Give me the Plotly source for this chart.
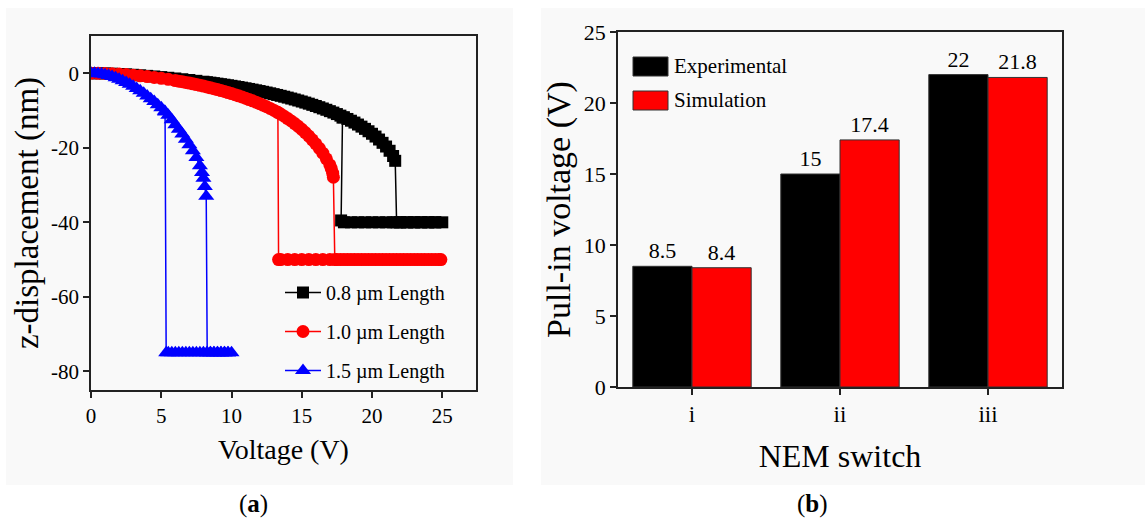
import plotly.graph_objects as go

W, H = 1145, 520
FONT = "Liberation Serif, serif"

# ---------------- Panel (a) data: z-displacement vs voltage ----------------
# 0.8 um : forward sweep along curve, pull-in jump, contact branch, release jump
v08 = [0.0, 0.5, 1.0, 1.5, 2.0, 2.5, 3.0, 3.5, 4.0, 4.5, 5.0, 5.5, 6.0, 6.5, 7.0, 7.5,
       8.0, 8.25, 8.5, 8.75, 9.0, 9.25, 9.5, 9.75, 10.0, 10.25, 10.5, 10.75, 11.0, 11.25,
       11.5, 11.75, 12.0, 12.25, 12.5, 12.75, 13.0, 13.25, 13.5, 13.75, 14.0, 14.25, 14.5,
       14.75, 15.0, 15.25, 15.5, 15.75, 16.0, 16.25, 16.5, 16.75, 17.0, 17.25, 17.5, 17.75,
       18.0, 18.25, 18.5, 18.75, 19.0, 19.25, 19.5, 19.75, 20.0, 20.25, 20.5, 20.75, 21.0,
       21.25, 21.5, 21.65,
       21.75, 22.0, 22.5, 23.0, 23.5, 24.0, 24.5, 25.0,
       24.5, 24.0, 23.5, 23.0, 22.5, 22.0, 21.5, 21.0, 20.5, 20.0, 19.5, 19.0, 18.5, 18.0, 17.8,
       17.9]
z08 = [0.0, -0.01, -0.05, -0.11, -0.19, -0.29, -0.41, -0.55, -0.70, -0.86, -1.03, -1.21,
       -1.40, -1.60, -1.81, -2.03,
       -2.27, -2.39, -2.52, -2.65, -2.79, -2.93, -3.07, -3.22, -3.37, -3.53, -3.69, -3.86,
       -4.03, -4.21, -4.39, -4.58, -4.77, -4.97, -5.17, -5.38, -5.60, -5.82, -6.05, -6.29,
       -6.53, -6.78, -7.04, -7.31, -7.58, -7.87, -8.16, -8.47, -8.78, -9.11, -9.45, -9.80,
       -10.17, -10.55, -10.95, -11.37, -11.80, -12.26, -12.73, -13.23, -13.76, -14.32,
       -14.92, -15.56, -16.24, -16.98, -17.78, -18.67, -19.66, -20.8, -22.2, -23.5,
       -40.0, -40.0, -40.0, -40.0, -40.0, -40.0, -40.0, -40.0,
       -40.0, -40.0, -40.0, -40.0, -40.0, -40.0, -40.0, -40.0, -40.0, -40.0, -40.0, -40.0,
       -40.0, -40.0, -39.5,
       -11.9]

# 1.0 um
v10 = [0.0, 0.5, 1.0, 1.5, 2.0, 2.5, 3.0, 3.5, 4.0, 4.5, 5.0, 5.5,
       6.0, 6.25, 6.5, 6.75, 7.0, 7.25, 7.5, 7.75, 8.0, 8.25, 8.5, 8.75, 9.0, 9.25, 9.5,
       9.75, 10.0, 10.25, 10.5, 10.75, 11.0, 11.25, 11.5, 11.75, 12.0, 12.25, 12.5, 12.75,
       13.0, 13.25, 13.5, 13.75, 14.0, 14.25, 14.5, 14.75, 15.0, 15.25, 15.5, 15.75, 16.0,
       16.25, 16.5, 16.75, 17.0, 17.1, 17.2, 17.25,
       17.35, 17.75, 18.25, 18.75, 19.25, 19.75, 20.25, 20.75, 21.25, 21.75, 22.25, 22.75,
       23.25, 23.75, 24.25, 24.75, 24.9,
       24.5, 24.0, 23.5, 23.0, 22.5, 22.0, 21.5, 21.0, 20.5, 20.0, 19.5, 19.0, 18.5, 18.0,
       17.5, 17.0, 16.5, 16.0, 15.5, 15.0, 14.5, 14.0, 13.5, 13.35,
       13.3]
z10 = [0.0, -0.02, -0.06, -0.13, -0.22, -0.35, -0.50, -0.68, -0.88, -1.11, -1.36, -1.64,
       -1.95, -2.11, -2.28, -2.46, -2.64, -2.83, -3.03, -3.24, -3.45, -3.67, -3.90, -4.14,
       -4.38, -4.64, -4.90, -5.17, -5.45, -5.75, -6.05, -6.37, -6.70, -7.05, -7.40, -7.77,
       -8.15, -8.56, -8.98, -9.43, -9.90, -10.41, -10.95, -11.53, -12.15, -12.81, -13.50,
       -14.25, -15.05, -15.92, -16.85, -17.86, -18.95, -20.15, -21.45, -22.95, -24.60,
       -25.6, -26.8, -27.9,
       -50.0, -50.0, -50.0, -50.0, -50.0, -50.0, -50.0, -50.0, -50.0, -50.0, -50.0, -50.0,
       -50.0, -50.0, -50.0, -50.0, -50.0,
       -50.0, -50.0, -50.0, -50.0, -50.0, -50.0, -50.0, -50.0, -50.0, -50.0, -50.0, -50.0,
       -50.0, -50.0, -50.0, -50.0, -50.0, -50.0, -50.0, -50.0, -50.0, -50.0, -50.0, -50.0,
       -10.5]

# 1.5 um
v15 = [0.0, 0.25, 0.5, 0.75, 1.0, 1.25, 1.5, 1.75, 2.0, 2.25, 2.5, 2.75, 3.0, 3.25, 3.5,
       3.75, 4.0, 4.25, 4.5, 4.75, 5.0, 5.25, 5.5, 5.75, 6.0, 6.25, 6.5, 6.75, 7.0, 7.25,
       7.5, 7.75, 7.9, 8.0, 8.1, 8.2,
       8.27, 8.5, 8.75, 9.0, 9.25, 9.5, 9.75, 10.0,
       9.75, 9.5, 9.25, 9.0, 8.75, 8.5, 8.25, 8.0, 7.75, 7.5, 7.25, 7.0, 6.75, 6.5, 6.25,
       6.0, 5.75, 5.5, 5.35,
       5.27]
z15 = [0.0, -0.03, -0.10, -0.22, -0.40, -0.62, -0.90, -1.22, -1.60, -2.00, -2.45, -2.95,
       -3.50, -4.10, -4.72, -5.38, -6.08, -6.82, -7.60, -8.42, -9.28, -10.18, -11.3, -12.5,
       -13.8, -15.0, -16.3, -17.7, -19.2, -20.8, -22.6, -24.8, -26.6, -28.2, -30.4, -33.0,
       -75.0, -75.0, -75.0, -75.0, -75.0, -75.0, -75.0, -75.0,
       -75.0, -75.0, -75.0, -75.0, -75.0, -75.0, -75.0, -75.0, -75.0, -75.0, -75.0, -75.0,
       -75.0, -75.0, -75.0, -75.0, -75.0, -75.0, -75.0,
       -10.4]

series_names = ["0.8 \u00b5m Length", "1.0 \u00b5m Length", "1.5 \u00b5m Length"]
series_colors = ["#000000", "#ff0000", "#0000ff"]
series_symbols = ["square", "circle", "triangle-up"]
series_sizes = [12, 13, 14]

volt_ticks = [0, 5, 10, 15, 20, 25]
disp_ticks = [0, -20, -40, -60, -80]
disp_labels = ["0", "-20", "-40", "-60", "-80"]

# ---------------- Panel (b) data: pull-in voltage ----------------
switches = ["i", "ii", "iii"]
experimental = [8.5, 15, 22]
simulation = [8.4, 17.4, 21.8]
pull_ticks = [0, 5, 10, 15, 20, 25]

fig = go.Figure()

for i, (vx, vz) in enumerate([(v08, z08), (v10, z10), (v15, z15)]):
    fig.add_trace(go.Scatter(
        x=vx, y=vz, mode="lines+markers", name=series_names[i],
        legendgroup=f"g{i}", legend="legend",
        line=dict(color=series_colors[i], width=1.5),
        marker=dict(symbol=series_symbols[i], size=series_sizes[i], color=series_colors[i],
                    line=dict(width=0)),
        xaxis="x", yaxis="y", cliponaxis=True,
    ))

fig.add_trace(go.Bar(
    x=switches, y=experimental, name="Experimental", xaxis="x2", yaxis="y2",
    marker=dict(color="#000000", line=dict(color="#333333", width=1)),
    texttemplate="%{y}", textposition="outside", cliponaxis=False,
    textfont=dict(family=FONT, size=22, color="black"), showlegend=False,
))
fig.add_trace(go.Bar(
    x=switches, y=simulation, name="Simulation", xaxis="x2", yaxis="y2",
    marker=dict(color="#ff0000", line=dict(color="#333333", width=1)),
    texttemplate="%{y}", textposition="outside", cliponaxis=False,
    textfont=dict(family=FONT, size=22, color="black"), showlegend=False,
))

def px(x):
    return x / W

def py(y):
    return 1 - y / H

axis_common = dict(showgrid=False, zeroline=False, showline=True, mirror=True,
                   linecolor="#222222", linewidth=1.6, ticks="outside", ticklen=6,
                   tickwidth=1.6, tickcolor="#222222")

shapes = [
    dict(type="rect", xref="paper", yref="paper", x0=px(6), x1=px(513), y0=py(485), y1=py(8),
         fillcolor="#f9f9f9", line=dict(width=0), layer="below"),
    dict(type="rect", xref="paper", yref="paper", x0=px(541), x1=px(1145), y0=py(485), y1=py(8),
         fillcolor="#f9f9f9", line=dict(width=0), layer="below"),
    # legend swatches for panel (b)
    dict(type="rect", xref="paper", yref="paper", x0=px(633), x1=px(668), y0=py(76), y1=py(57),
         fillcolor="#000000", line=dict(color="#333333", width=1)),
    dict(type="rect", xref="paper", yref="paper", x0=px(633), x1=px(668), y0=py(110), y1=py(91),
         fillcolor="#ff0000", line=dict(color="#333333", width=1)),
]

annotations = [
    dict(text="Experimental", xref="paper", yref="paper", x=px(672), y=py(66),
         xanchor="left", yanchor="middle", showarrow=False,
         font=dict(family=FONT, size=21, color="black")),
    dict(text="Simulation", xref="paper", yref="paper", x=px(672), y=py(100),
         xanchor="left", yanchor="middle", showarrow=False,
         font=dict(family=FONT, size=21, color="black")),
    dict(text="(<b>a</b>)", xref="paper", yref="paper", x=px(253), y=py(504),
         xanchor="center", yanchor="middle", showarrow=False,
         font=dict(family=FONT, size=25, color="black")),
    dict(text="(<b>b</b>)", xref="paper", yref="paper", x=px(812), y=py(504),
         xanchor="center", yanchor="middle", showarrow=False,
         font=dict(family=FONT, size=25, color="black")),
]

fig.update_layout(
    width=W, height=H, autosize=False,
    margin=dict(l=0, r=0, t=0, b=0, pad=0),
    paper_bgcolor="white", plot_bgcolor="rgba(0,0,0,0)",
    font=dict(family=FONT, color="black"),
    barmode="group", bargap=0.2, bargroupgap=0.0,
    xaxis=dict(axis_common, domain=[px(91), px(476)], range=[0, 27.4],
               tickmode="array", tickvals=volt_ticks,
               title=dict(text="Voltage (V)", font=dict(family=FONT, size=28), standoff=12),
               anchor="y", automargin=False, tickfont=dict(family=FONT, size=21, color="black")),
    yaxis=dict(axis_common, domain=[py(390), py(36)], range=[-85, 10],
               tickmode="array", tickvals=disp_ticks, ticktext=disp_labels,
               title=dict(text="z-displacement (nm)", font=dict(family=FONT, size=33), standoff=2),
               anchor="x", automargin=False, tickfont=dict(family=FONT, size=21, color="black")),
    xaxis2=dict(axis_common, domain=[px(618), px(1062)], range=[-0.5, 2.5], type="category",
                title=dict(text="NEM switch", font=dict(family=FONT, size=32), standoff=18),
                anchor="y2", automargin=False, tickfont=dict(family=FONT, size=23, color="black")),
    yaxis2=dict(axis_common, domain=[py(387), py(32)], range=[0, 25],
                tickmode="array", tickvals=pull_ticks,
                title=dict(text="Pull-in voltage (V)", font=dict(family=FONT, size=34), standoff=3),
                anchor="x2", automargin=False, tickfont=dict(family=FONT, size=22, color="black")),
    legend=dict(x=px(280), y=py(273), xanchor="left", yanchor="top",
                bgcolor="rgba(0,0,0,0)", borderwidth=0, tracegroupgap=10,
                traceorder="grouped", itemwidth=36,
                font=dict(family=FONT, size=20, color="black")),
    shapes=shapes,
    annotations=annotations,
)

fig.write_html("out.html")
